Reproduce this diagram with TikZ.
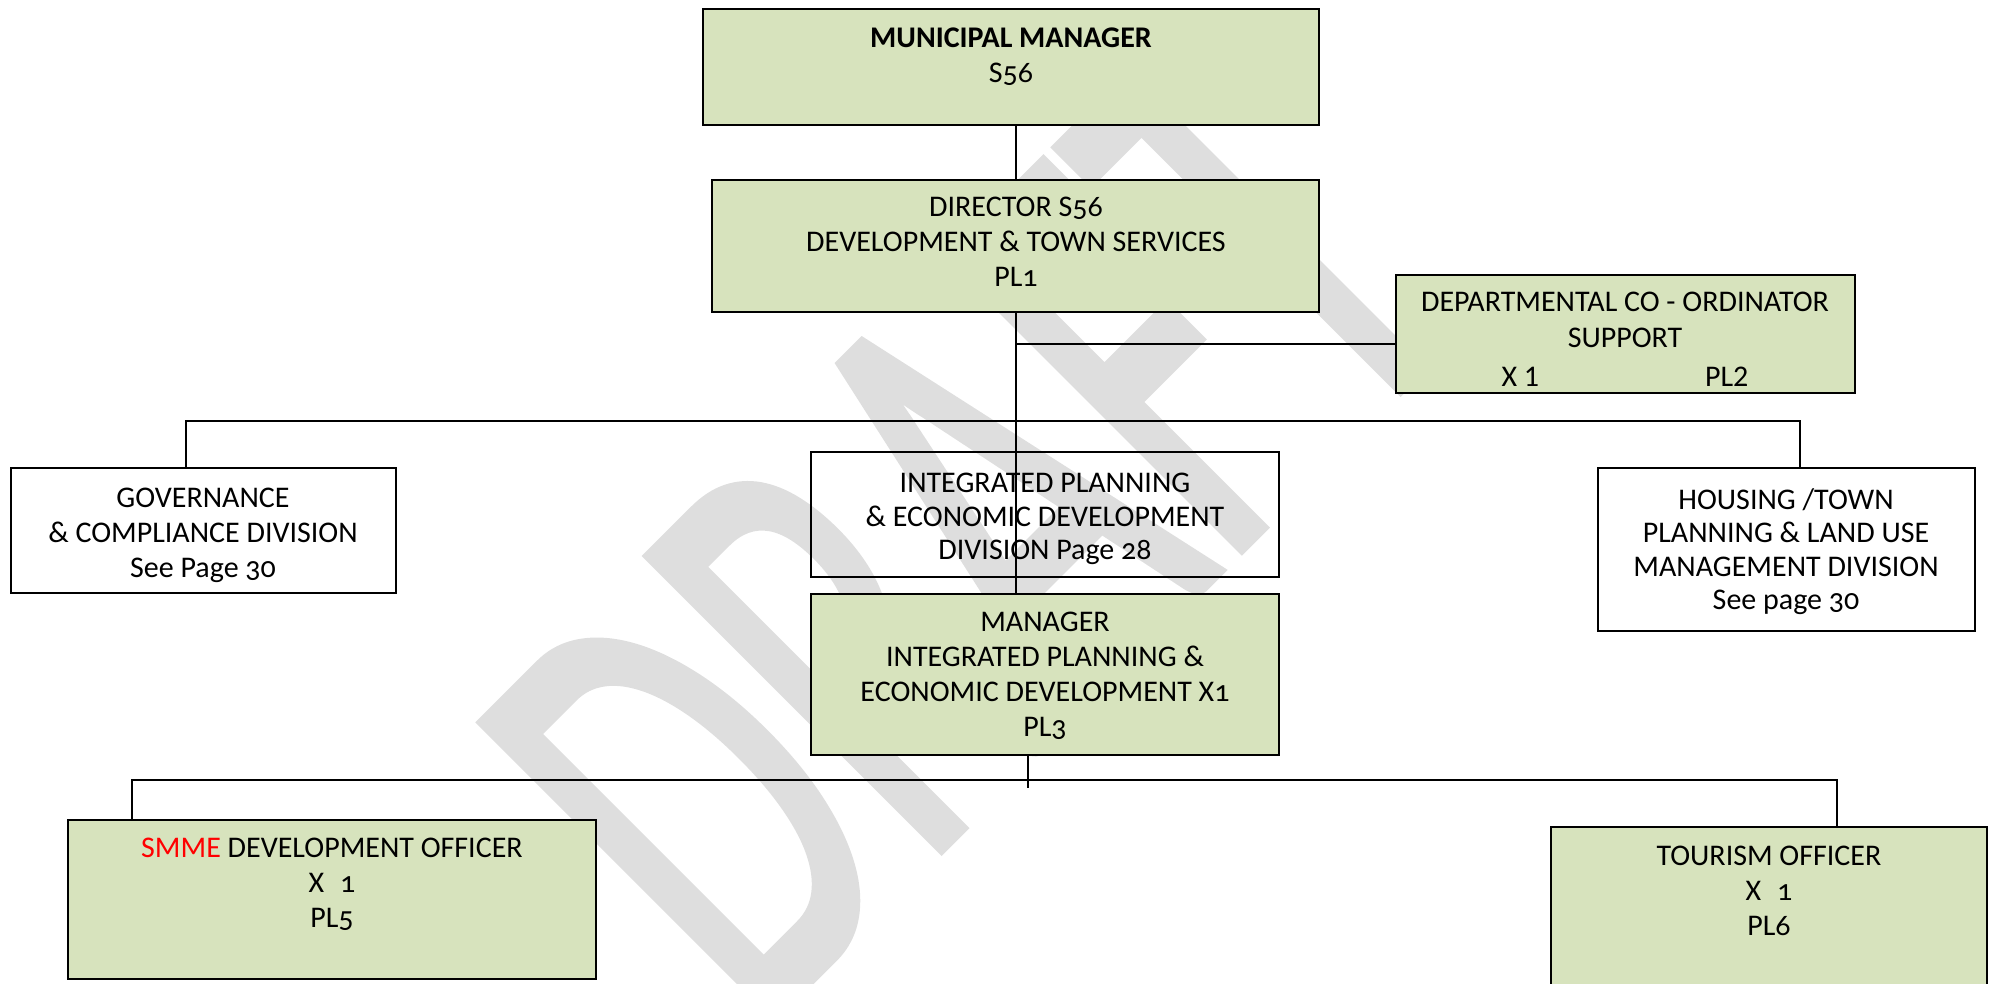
\documentclass[tikz,border=0pt]{standalone}
\usepackage{fontspec}
\setmainfont[Numbers=OldStyle]{Carlito}
\newfontfamily\wmfont[FakeBold=1.5]{Carlito}
\usetikzlibrary{fit}
\definecolor{boxgreen}{RGB}{215,227,189}
\definecolor{wmgray}{RGB}{222,222,222}
\definecolor{smmered}{RGB}{255,0,0}
\begin{document}
\begin{tikzpicture}[x=0.5pt,y=-0.5pt,
  gbox/.style={draw=black, line width=1.1pt, fill=boxgreen, inner sep=0pt},
  wbox/.style={draw=black, line width=1.1pt, inner sep=0pt},
  txt/.style={align=center, inner sep=0pt, anchor=north, font=\fontsize{15}{17.5}\selectfont},
  txtn/.style={align=center, inner sep=0pt, anchor=north, font=\fontsize{15}{16.75}\selectfont},
  conn/.style={draw=black, line width=0.8pt}]
\clip (0,0) rectangle (1993,984);
% watermark
\node[anchor=north west, inner sep=0pt, rotate=45, text=wmgray, font=\wmfont\fontsize{190}{190}\selectfont] (wm) at (462,742) {\scalebox{1}[1.7]{DRAFT}};
% boxes
\node[gbox, fit={(703,9)(1319,125)}] (mm) {};
\node[gbox, fit={(712,180)(1319,312)}] (dir) {};
\node[gbox, fit={(1396,275)(1855,393)}] (dept) {};
\node[wbox, fit={(11,468)(396,593)}] (gov) {};
\node[wbox, fit={(811,452)(1279,577)}] (ip) {};
\node[wbox, fit={(1598,468)(1975,631)}] (hous) {};
\node[gbox, fit={(811,594)(1279,755)}] (mgr) {};
\node[gbox, fit={(68,820)(596,979)}] (smme) {};
\node[gbox, fit={(1551,827)(1987,1010)}] (tour) {};
% texts
\node[txt] (mmt) at (1011,27) {\textbf{MUNICIPAL MANAGER}\\S56};
\node[txt] (dirt) at (1016,197) {DIRECTOR S56\\DEVELOPMENT \& TOWN SERVICES\\PL1};
\node[txt, font=\fontsize{15}{18}\selectfont\addfontfeatures{Numbers=Lining}] (deptt) at (1625,292) {DEPARTMENTAL CO - ORDINATOR\\SUPPORT\\[1.5pt]X 1\hspace{83pt}PL2};
\node[txt] (govt) at (203,488) {GOVERNANCE\\\& COMPLIANCE DIVISION\\See Page 30};
\node[txtn] (ipt) at (1045,473) {INTEGRATED PLANNING\\\& ECONOMIC DEVELOPMENT\\DIVISION Page 28};
\node[txtn] (houst) at (1786,488) {HOUSING /TOWN\\PLANNING \& LAND USE\\MANAGEMENT DIVISION\\See page 30};
\node[txt] (mgrt) at (1045,612) {MANAGER\\INTEGRATED PLANNING \&\\ECONOMIC DEVELOPMENT X1\\PL3};
\node[txt] (smmet) at (332,838) {\textcolor{smmered}{SMME} DEVELOPMENT OFFICER\\X\hspace{8pt}1\\PL5};
\node[txt] (tourt) at (1769,846) {TOURISM OFFICER\\X\hspace{8pt}1\\PL6};
% connectors
\coordinate (vx) at (1016,0);
\coordinate (j1) at (1016,344);
\coordinate (busL) at (186,421);
\coordinate (busR) at (1800,421);
\coordinate (stub) at (1028,788);
\coordinate (bus2L) at (132,780);
\coordinate (bus2R) at (1837,780);
\draw[conn] (mm.south -| vx) -- (dir.north -| vx);
\draw[conn] (dir.south -| vx) -- (mgr.north -| vx);
\draw[conn] (j1) -- (dept.west |- j1);
\draw[conn] (gov.north -| busL) -- (busL) -- (busR) -- (hous.north -| busR);
\draw[conn] (mgr.south -| stub) -- (stub);
\draw[conn] (smme.north -| bus2L) -- (bus2L) -- (bus2R) -- (tour.north -| bus2R);
\end{tikzpicture}
\end{document}
